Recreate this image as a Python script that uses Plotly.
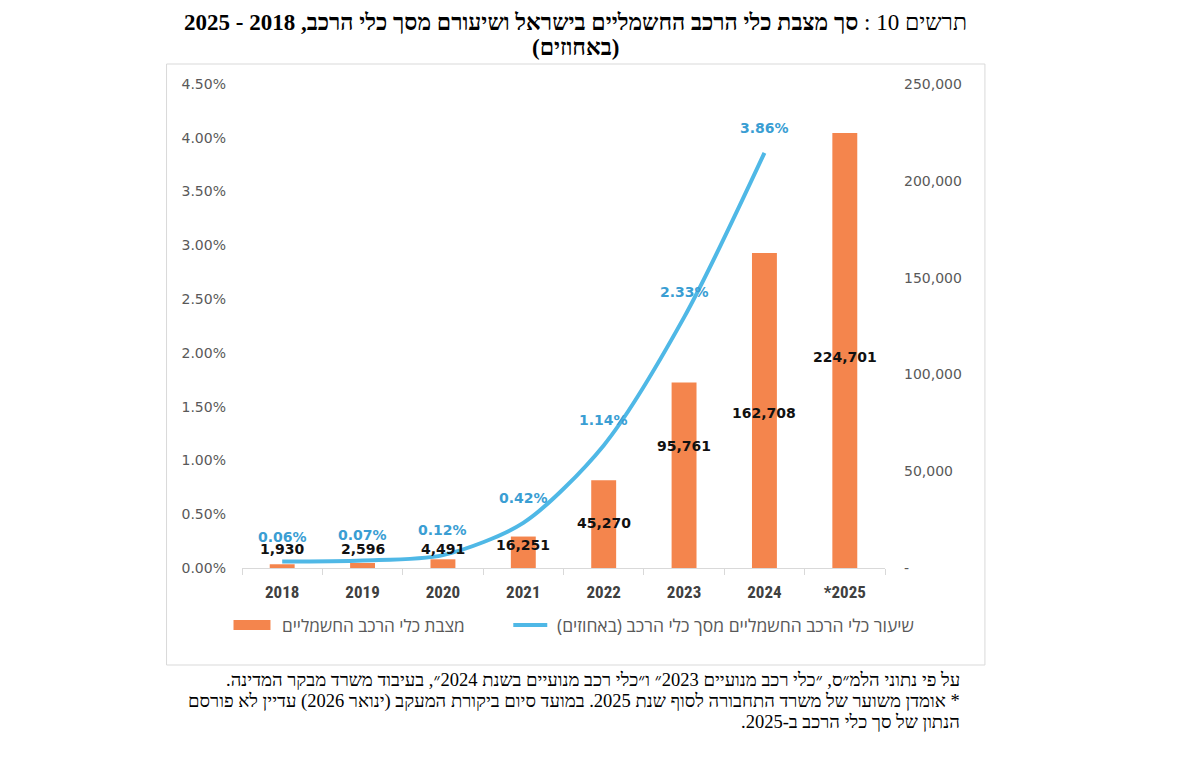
import plotly.graph_objects as go

# ---------------- data ----------------
years = ["2018", "2019", "2020", "2021", "2022", "2023", "2024", "*2025"]
ev_fleet = [1930, 2596, 4491, 16251, 45270, 95761, 162708, 224701]
ev_share_pct = [0.06, 0.07, 0.12, 0.42, 1.14, 2.33, 3.86]

share_tickvals = [0, 0.5, 1.0, 1.5, 2.0, 2.5, 3.0, 3.5, 4.0, 4.5]
share_ticktext = ["0.00%", "0.50%", "1.00%", "1.50%", "2.00%", "2.50%", "3.00%", "3.50%", "4.00%", "4.50%"]
fleet_tickvals = [0, 50000, 100000, 150000, 200000, 250000]
fleet_ticktext = ["-", "50,000", "100,000", "150,000", "200,000", "250,000"]

# label anchor heights for the bar value labels (right-axis units)
bar_label_y = [9800, 9800, 9800, 11900, 23200, 63000, 80000, 109000]

RLM = "\u200f"
title_line1 = "תרשים 10 : <b>סך מצבת כלי הרכב החשמליים בישראל ושיעורם מסך כלי הרכב, 2018 - 2025</b>"
title_line2 = "<b>(באחוזים)</b>"
legend_bar = "מצבת כלי הרכב החשמליים"
legend_line = "שיעור כלי הרכב החשמליים מסך כלי הרכב (באחוזים)"
footnote_lines = [
    "על פי נתוני הלמ\u05f4ס, \u05f4כלי רכב מנועיים 2023\u05f4 ו\u05f4כלי רכב מנועיים בשנת 2024\u05f4, בעיבוד משרד מבקר המדינה.",
    "* אומדן משוער של משרד התחבורה לסוף שנת 2025. במועד סיום ביקורת המעקב (ינואר 2026) עדיין לא פורסם",
    "הנתון של סך כלי הרכב ב-2025.",
]

# ---------------- style ----------------
W_PX, H_PX = 1180, 758
L, R, T, B = 241.5, 885.0, 84.0, 568.0
BAR_COLOR = "#F4854D"
LINE_COLOR = "#4FB8E6"
LINE_LABEL_COLOR = "#3A9ED3"
AXIS_TXT = "#595959"
GRID = "#D9D9D9"


def px_x(p):
    return (p - L) / (R - L)


def px_y(p):
    return (B - p) / (B - T)


fig = go.Figure()

fig.add_trace(go.Bar(
    x=years, y=ev_fleet, yaxis="y2", marker=dict(color=BAR_COLOR, line=dict(width=0)),
    name=legend_bar, showlegend=False,
))
fig.add_trace(go.Scatter(
    x=years[:len(ev_share_pct)], y=ev_share_pct, yaxis="y", mode="lines",
    line=dict(color=LINE_COLOR, width=4, shape="spline", smoothing=0.8),
    name=legend_line, showlegend=False,
))

annotations = []
# bar value labels (x given as category index)
for i, (v, ly) in enumerate(zip(ev_fleet, bar_label_y)):
    annotations.append(dict(
        x=i, y=ly, xref="x", yref="y2", text=f"{v:,}", showarrow=False,
        font=dict(family="DejaVu Sans", size=14, color="#111111", weight="bold"),
    ))
# line value labels
for i, v in enumerate(ev_share_pct):
    annotations.append(dict(
        x=i, y=v, xref="x", yref="y", yshift=25, text=f"{v:.2f}%", showarrow=False,
        font=dict(family="DejaVu Sans", size=14, color=LINE_LABEL_COLOR, weight="bold"),
    ))
# title
annotations.append(dict(
    x=px_x(575), y=px_y(22), xref="paper", yref="paper", xanchor="center", yanchor="middle",
    text=RLM + title_line1 + RLM, showarrow=False,
    font=dict(family="Liberation Serif", size=23, color="#000000"),
))
annotations.append(dict(
    x=px_x(575), y=px_y(47), xref="paper", yref="paper", xanchor="center", yanchor="middle",
    text=RLM + title_line2 + RLM, showarrow=False,
    font=dict(family="Liberation Serif", size=23, color="#000000"),
))
# legend texts
annotations.append(dict(
    x=px_x(280), y=px_y(625), xref="paper", yref="paper", xanchor="left", yanchor="middle",
    text=RLM + legend_bar + RLM, showarrow=False,
    font=dict(family="Open Sans, Liberation Sans", size=17.2, color=AXIS_TXT),
))
annotations.append(dict(
    x=px_x(555), y=px_y(625), xref="paper", yref="paper", xanchor="left", yanchor="middle",
    text=RLM + legend_line + RLM, showarrow=False,
    font=dict(family="Open Sans, Liberation Sans", size=17.5, color=AXIS_TXT),
))
# footnote, one line each
for k, s in enumerate(footnote_lines):
    annotations.append(dict(
        x=px_x(962), y=px_y(680 + 21 * k), xref="paper", yref="paper",
        xanchor="right", yanchor="middle", showarrow=False,
        text=RLM + s + RLM,
        font=dict(family="Liberation Serif", size=18.5, color="#000000"),
    ))

shapes = [
    # outer frame
    dict(type="rect", xref="paper", yref="paper", x0=px_x(166), x1=px_x(985),
         y0=px_y(665), y1=px_y(64), line=dict(color=GRID, width=1), fillcolor="rgba(0,0,0,0)",
         layer="below"),
    # legend swatches
    dict(type="rect", xref="paper", yref="paper", x0=px_x(233), x1=px_x(270),
         y0=px_y(630), y1=px_y(620), line=dict(width=0), fillcolor=BAR_COLOR),
    dict(type="line", xref="paper", yref="paper", x0=px_x(513), x1=px_x(547),
         y0=px_y(625), y1=px_y(625), line=dict(color=LINE_COLOR, width=4)),
]

fig.update_layout(
    width=W_PX, height=H_PX,
    margin=dict(l=L, r=W_PX - R, t=T, b=H_PX - B, autoexpand=False),
    paper_bgcolor="white", plot_bgcolor="white",
    bargap=0.69,
    xaxis=dict(type="category", categoryorder="array", categoryarray=years,
               range=[-0.5, len(years) - 0.5], autorange=False,
               showline=True, linecolor=GRID, linewidth=1,
               ticks="outside", tickson="boundaries", ticklen=6, tickcolor=GRID,
               showgrid=False, ticklabelstandoff=9, tickangle=0,
               tickfont=dict(family="Liberation Sans Narrow, Roboto Condensed, Arial Narrow",
                             size=17, color="#404040", weight="bold")),
    yaxis=dict(range=[0, 4.5], tickvals=share_tickvals, ticktext=share_ticktext,
               showgrid=False, zeroline=False, showline=False, ticklabelstandoff=15,
               tickfont=dict(family="DejaVu Sans", size=14, color=AXIS_TXT)),
    yaxis2=dict(range=[0, 250000], overlaying="y", side="right", tickvals=fleet_tickvals,
                ticktext=fleet_ticktext, showgrid=False, zeroline=False, showline=False,
                ticklabelstandoff=18,
                tickfont=dict(family="DejaVu Sans", size=14, color=AXIS_TXT)),
    annotations=annotations,
    shapes=shapes,
    showlegend=False,
)

fig.write_html("out.html")
